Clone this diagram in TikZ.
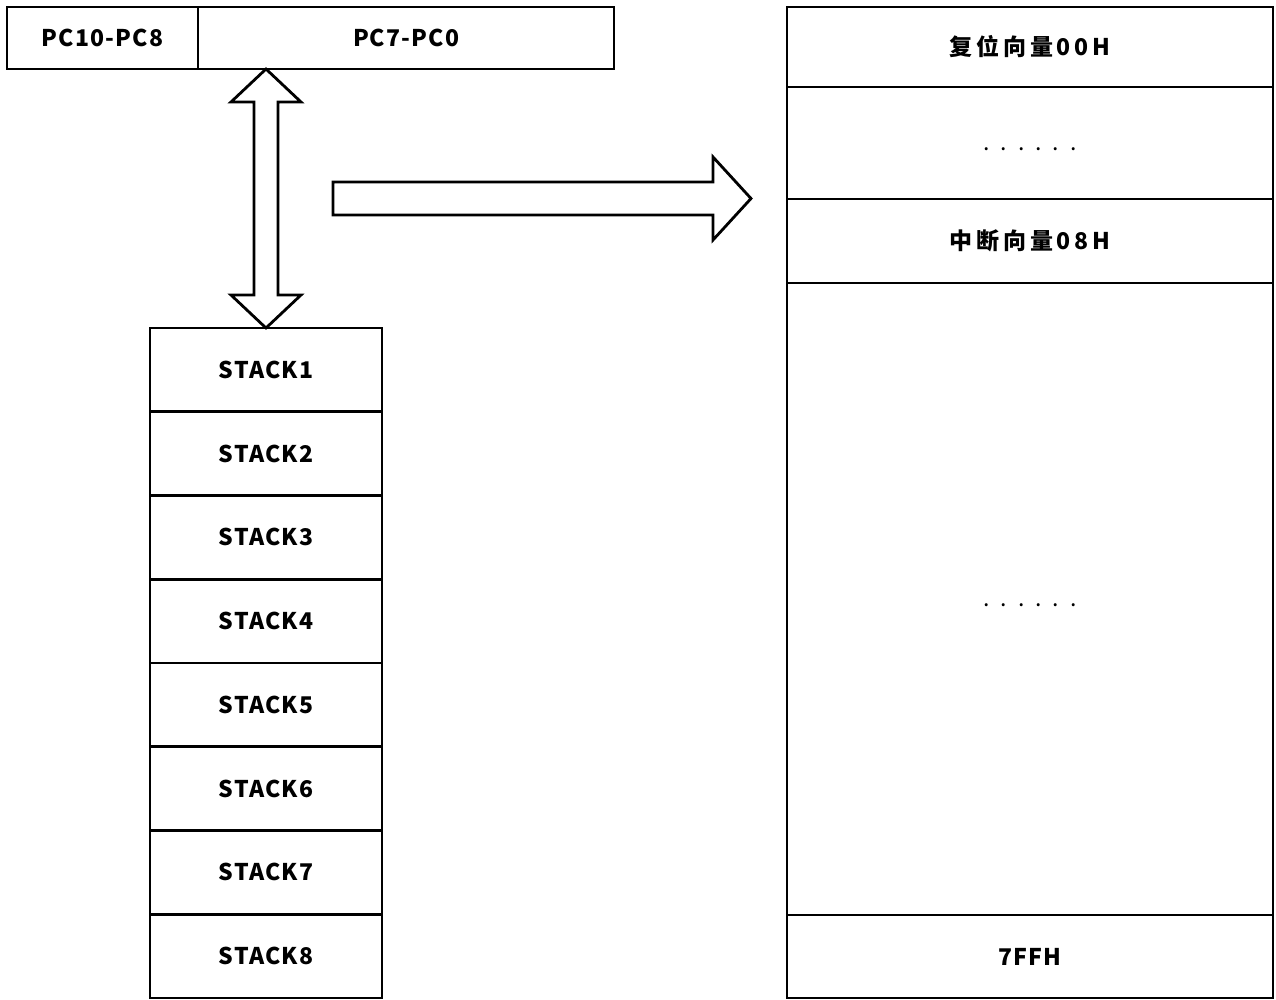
\documentclass[tikz,border=0pt]{standalone}
\usepackage{fontspec}
\setmainfont{Noto Sans CJK SC}[LetterSpace=5]
\newfontfamily\widefont{Noto Sans CJK SC}[LetterSpace=17]
\newfontfamily\dotsfont{Noto Sans CJK SC}[LetterSpace=48]
\usetikzlibrary{positioning}

\tikzset{
    cellbox/.style={draw, line width=2.8pt, inner sep=0pt, outer sep=0pt,
        font=\fontsize{23}{26}\selectfont\bfseries},
    fatarrow/.style={draw, line width=2.8pt, line join=miter}
}
\newcommand{\gapdots}{\smash{\raisebox{-7pt}{\dotsfont\mdseries ......}}}

\begin{document}
\begin{tikzpicture}[x=1pt, y=-1pt]
    \useasboundingbox (0,0) rectangle (1276,999);
    % program counter
    \node[cellbox, minimum width=191pt, minimum height=62pt] (pchigh) at (102.5,38) {PC10-PC8};
    \node[cellbox, minimum width=416pt, minimum height=62pt, right=0pt of pchigh] (pclow) {PC7-PC0};
    % stack
    \foreach \i in {1,...,8}
        \node[cellbox, minimum width=232pt, minimum height=83.75pt] (stack\i) at (266,{328+83.75*(\i-0.5)}) {STACK\i};
    % program memory
    \node[cellbox, minimum width=486pt, minimum height=80pt] (reset) at (1030,47) {\widefont 复位向量00H};
    \node[cellbox, minimum width=486pt, minimum height=112pt, below=0pt of reset] (gapa) {\gapdots};
    \node[cellbox, minimum width=486pt, minimum height=84pt, below=0pt of gapa] (irq) {\widefont 中断向量08H};
    \node[cellbox, minimum width=486pt, minimum height=632pt, below=0pt of irq] (gapb) {\gapdots};
    \node[cellbox, minimum width=486pt, minimum height=83pt, below=0pt of gapb] (last) {7FFH};
    % arrows
    \coordinate (top) at (stack1.north |- pclow.south);
    \draw[fatarrow] (top) -- ++(35,33) -- ++(-23,0) -- ++(0,193) -- ++(23,0)
        -- (stack1.north) -- ++(-35,-33) -- ++(23,0) -- ++(0,-193) -- ++(-23,0) -- cycle;
    \coordinate (tip) at (751,198.5);
    \draw[fatarrow] (tip) -- ++(-38,-41.5) -- ++(0,25) -- ++(-380,0) -- ++(0,33)
        -- ++(380,0) -- ++(0,25) -- cycle;
\end{tikzpicture}
\end{document}
